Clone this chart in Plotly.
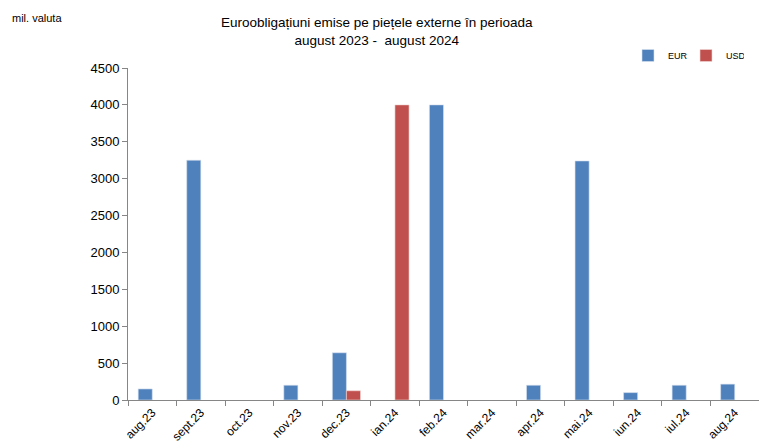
import plotly.graph_objects as go

categories = ["aug.23", "sept.23", "oct.23", "nov.23", "dec.23", "ian.24", "feb.24",
              "mar.24", "apr.24", "mai.24", "iun.24", "iul.24", "aug.24"]
eur = [150, 3250, None, 200, 640, None, 4000, None, 200, 3240, 100, 200, 215]
usd = [None, None, None, None, 125, 4000, None, None, None, None, None, None, None]

fig = go.Figure()
fig.add_trace(go.Bar(name="EUR", x=categories, y=eur, marker_color="#4F81BD",
                     marker_line=dict(color="#D6E0EE", width=0.6)))
fig.add_trace(go.Bar(name="USD", x=categories, y=usd, marker_color="#C0504D",
                     marker_line=dict(color="#F0D6D5", width=0.6)))

fig.update_layout(
    width=759, height=442,
    margin=dict(l=128, r=0, t=68, b=42, autoexpand=False),
    paper_bgcolor="white", plot_bgcolor="white",
    barmode="group", bargap=0.42, bargroupgap=0,
    font=dict(family="Liberation Sans, Arial, sans-serif", color="#000000"),
    showlegend=True,
    legend=dict(orientation="h", xref="container", yref="container",
                x=628 / 759, y=1 - 41 / 442, xanchor="left", yanchor="top",
                font=dict(size=9), entrywidth=13, entrywidthmode="pixels",
                itemwidth=30, tracegroupgap=0, bgcolor="rgba(0,0,0,0)"),
    annotations=[
        dict(text="Euroobligațiuni emise pe piețele externe în perioada<br>august 2023 -  august 2024",
             xref="paper", yref="paper", x=(377 - 128) / 631, y=1.0 + (68 - 32) / 332,
             xanchor="center", yanchor="middle", showarrow=False,
             font=dict(size=13.5)),
        dict(text="mil. valuta", xref="paper", yref="paper",
             x=-118 / 631, y=1.0 + (68 - 18) / 332, xanchor="left", yanchor="middle",
             showarrow=False, font=dict(size=11)),
    ],
)
fig.update_xaxes(showline=True, linecolor="#868686", linewidth=1, automargin=False,
                 ticks="outside", tickson="boundaries", ticklen=5, tickcolor="#868686",
                 tickangle=-45, tickfont=dict(size=12), showgrid=False)
fig.update_yaxes(range=[0, 4500], dtick=500, showline=True, linecolor="#868686", linewidth=1,
                 automargin=False,
                 ticks="outside", ticklen=5, tickcolor="#868686",
                 tickfont=dict(size=13), showgrid=False, zeroline=False)

fig.write_html("out.html", config={"displayModeBar": False},
               post_script="document.body.style.margin='0';document.body.style.padding='0';")
